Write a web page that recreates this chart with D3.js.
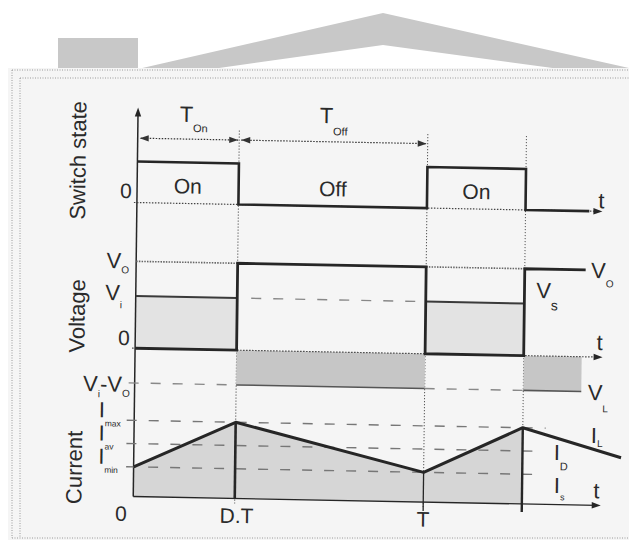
<!DOCTYPE html>
<html><head><meta charset="utf-8">
<script src="https://cdn.jsdelivr.net/npm/d3@7"></script>
<style>html,body{margin:0;padding:0;background:#fff;} svg{display:block;} text{font-family:"Liberation Sans",Arial,sans-serif;fill:#2a2a2a;}</style>
</head><body>
<svg id="c" width="629" height="547"></svg>
<script>
// ---------------- data (time in periods T, values normalised) ----------------
const timeMarks = [0, 0.35, 1, 1.34];              // 0, D.T, T, T+D.T
const timeLabels = ["0", "D.T", "T"];
const switchTimes  = [0, 0.35, 0.35, 1, 1, 1.34, 1.34, 1.56];
const switchValues = [1, 1, 0, 0, 1, 1, 0, 0];
const switchStates = ["On", "Off", "On"];
const stateSpans   = [[0, 0.35], [0.35, 1], [1, 1.34]];
const vsTimes  = [0, 0.35, 0.35, 1, 1, 1.34, 1.34, 1.55];
const vsValues = [0, 0, 1, 1, 0, 0, 1, 1];          // V_s (V_O = 1)
const vlTimes  = [0, 0.35, 1, 1.34, 1.54];
const vlValues = [0.6, -0.4, 0.6, -0.4];            // V_L on each interval
const voltageLevels = [1, 0.6, 0, -0.4];            // V_O, V_i, 0, V_i-V_O
const ilTimes  = [0, 0.35, 1, 1.34, 1.68];
const ilValues = [0.39, 1.0, 0.39, 1.0, 0.63];      // I_L
const currentLevels = [1.0, 0.695, 0.39];           // I_max, I_av, I_min
const currentLevelSubs = ["max", "av", "min"];

// ---------------- setup ----------------
const svg = d3.select("#c");
const INK = "#262626";
svg.append("rect").attr("width", 629).attr("height", 547).attr("fill", "#fff");
// decorative header shapes
svg.append("rect").attr("x", 58).attr("y", 38).attr("width", 80).attr("height", 31).attr("fill", "#c8c8c8");
svg.append("path").attr("d", "M138,69 L383,13 L629,68 L629,69 L560,69 L383,45 L212,69 Z").attr("fill", "#c8c8c8");
// paper
svg.append("rect").attr("x", 8).attr("y", 68).attr("width", 621).attr("height", 472).attr("fill", "#f5f5f5");
const dotted = (x1, y1, x2, y2) => svg.append("line").attr("x1", x1).attr("y1", y1).attr("x2", x2).attr("y2", y2)
  .attr("stroke", "#9a9a9a").attr("stroke-width", 1).attr("stroke-dasharray", "1,1.5");
dotted(12, 70, 629, 70); dotted(20, 78, 629, 78);
dotted(12, 70, 12, 538); dotted(20, 78, 20, 538); dotted(12, 538, 629, 538);

const g = svg.append("g").attr("transform", "translate(370,320) matrix(1,0.019,-0.0125,1,0,0) translate(-370,-320)");

const x = d3.scaleLinear().domain([0, 1]).range([135.5, 425.5]);
const ySw = d3.scaleLinear().domain([0, 1]).range([207, 166]);
const yV = d3.scaleLinear().domain([0, 1]).range([352.7, 265.8]);
const yI = d3.scaleLinear().domain([0, 1]).range([501, 424.8]);

function seg(x1, y1, x2, y2, color, w, dash) {
  const l = g.append("line").attr("x1", x1).attr("y1", y1).attr("x2", x2).attr("y2", y2)
    .attr("stroke", color).attr("stroke-width", w).attr("stroke-linecap", "butt");
  if (dash) l.attr("stroke-dasharray", dash);
  return l;
}
function arrowHead(px, py, dir, color) {
  const L = 9, W = 3.2;
  let p;
  if (dir === "r") p = [[px, py], [px - L, py - W], [px - L, py + W]];
  if (dir === "l") p = [[px, py], [px + L, py - W], [px + L, py + W]];
  if (dir === "u") p = [[px, py], [px - W, py + L], [px + W, py + L]];
  g.append("path").attr("d", "M" + p.map(d => d.join(",")).join("L") + "Z").attr("fill", color || INK);
}
function label(px, py, main, sub, subSize, subDy, size, anchor) {
  const t = g.append("text").attr("x", px).attr("y", py).attr("font-size", size || 22);
  if (anchor) t.attr("text-anchor", anchor);
  t.append("tspan").text(main);
  if (sub) t.append("tspan").attr("font-size", subSize).attr("dy", subDy).text(sub);
  return t;
}
function rotLabel(cx, cy, txt) {
  g.append("text").attr("transform", `translate(${cx},${cy}) rotate(-90)`).attr("text-anchor", "middle")
    .attr("dy", "0.35em").attr("font-size", 22).attr("fill", "#3a3a3a").text(txt);
}

// ---------------- grid verticals ----------------
timeMarks.slice(1).forEach(t => seg(x(t), 133, x(t), 506, "#555", 1, "1.2,1.8"));

// ---------------- fills ----------------
// V_L fills
for (let i = 0; i < vlValues.length; i++) {
  const v = vlValues[i];
  g.append("rect").attr("x", x(vlTimes[i])).attr("width", x(vlTimes[i + 1]) - x(vlTimes[i]))
    .attr("y", Math.min(yV(0), yV(v))).attr("height", Math.abs(yV(v) - yV(0)))
    .attr("fill", v > 0 ? "#e3e3e3" : "#c6c6c6");
}
// I_L fill up to T + D.T
const ilFillIdx = ilTimes.indexOf(timeMarks[3]);
g.append("path").datum(d3.range(ilFillIdx + 1))
  .attr("d", d3.area().x(i => x(ilTimes[i])).y0(yI(0)).y1(i => yI(ilValues[i])))
  .attr("fill", "#d6d6d6");

// ---------------- main vertical axis ----------------
seg(x(0), yI(0), x(0), 118, INK, 1.5);
arrowHead(x(0), 112, "u");

// ---------------- switch state panel ----------------
rotLabel(76, 166, "Switch state");
seg(x(0) + 3, 142.6, x(timeMarks[1]) - 1, 142.6, "#333", 1.2, "1.5,1.5");
arrowHead(x(0) + 2, 142.6, "l", "#333"); arrowHead(x(timeMarks[1]) - 1, 142.6, "r", "#333");
seg(x(timeMarks[1]) + 2, 142.6, x(timeMarks[2]) - 1, 142.6, "#333", 1.2, "1.5,1.5");
arrowHead(x(timeMarks[1]) + 2, 142.6, "l", "#333"); arrowHead(x(timeMarks[2]) - 1, 142.6, "r", "#333");
label(x(0.175) - 9, 125.5, "T", "On", 11, 10);
label(x(0.675) - 14, 124, "T", "Off", 11, 12);
seg(x(0) - 3, ySw(0), 598, ySw(0), "#444", 1.2, "1.5,1.5");
arrowHead(601, ySw(0), "r");
g.append("path").datum(d3.range(switchTimes.length))
  .attr("d", d3.line().x(i => x(switchTimes[i])).y(i => ySw(switchValues[i])))
  .attr("fill", "none").attr("stroke", INK).attr("stroke-width", 2.6);
stateSpans.forEach((s, i) => label(x((s[0] + s[1]) / 2), 197, switchStates[i], null, 0, 0, 21, "middle"));
label(124.4, 202.7, "0", null, 0, 0, 21, "middle");
label(600, 204, "t", null, 0, 0, 22, "middle");

// ---------------- voltage panel ----------------
rotLabel(77, 321.5, "Voltage");
// reference lines
seg(x(0), yV(1), x(timeMarks[1]), yV(1), "#666", 1.6, "1.5,1.2");
seg(x(timeMarks[2]), yV(1), x(timeMarks[3]), yV(1), "#666", 1.6, "1.5,1.2");
seg(x(timeMarks[1]) + 14, yV(0.6), x(timeMarks[2]), yV(0.6), "#888", 1.4, "10,12");
seg(x(0) - 6, yV(-0.4), x(timeMarks[1]), yV(-0.4), "#888", 1.4, "10,12");
seg(x(timeMarks[2]), yV(-0.4), x(timeMarks[3]), yV(-0.4), "#888", 1.4, "10,12");
// zero axis
seg(x(0) - 3, yV(0), 599, yV(0), "#444", 1.2, "1.5,1.5");
arrowHead(603, yV(0), "r");
// V_L edges
for (let i = 0; i < vlValues.length; i++) {
  const v = vlValues[i];
  seg(x(vlTimes[i]), yV(v), x(vlTimes[i + 1]), yV(v), v > 0 ? "#3a3a3a" : "#555", v > 0 ? 2 : 1.6);
}
// V_s
g.append("path").datum(d3.range(vsTimes.length))
  .attr("d", d3.line().x(i => x(vsTimes[i])).y(i => yV(vsValues[i])))
  .attr("fill", "none").attr("stroke", INK).attr("stroke-width", 2.8);
// labels
label(106, 273, "V", "O", 10, 5);
label(105, 305, "V", "i", 10, 8);
label(124.2, 349.7, "0", null, 0, 0, 21, "middle");
(function () {
  const t = g.append("text").attr("x", 84).attr("y", 396.5).attr("font-size", 22);
  t.append("tspan").text("V");
  t.append("tspan").attr("font-size", 10).attr("dy", 6).text("i");
  t.append("tspan").attr("dy", -6).text("-V");
  t.append("tspan").attr("font-size", 10).attr("dy", 5).text("O");
})();
label(590.5, 273.7, "V", "O", 10, 9);
label(536, 294.8, "V", "s", 14, 12);
label(599.8, 345.7, "t", null, 0, 0, 22, "middle");
label(588.6, 395.8, "V", "L", 10, 12);

// ---------------- current panel ----------------
rotLabel(76, 473, "Current");
const levelEnds = [547, 540, 540];
currentLevels.forEach((v, i) => {
  seg(128, yI(v), levelEnds[i], yI(v), "#777", 1.4, "10,12");
  label(100, yI(v) - 2.5, "I", currentLevelSubs[i], 8.5, 9, 22);
});
g.append("path").datum(d3.range(ilTimes.length))
  .attr("d", d3.line().x(i => x(ilTimes[i])).y(i => yI(ilValues[i])))
  .attr("fill", "none").attr("stroke", INK).attr("stroke-width", 3).attr("stroke-linejoin", "round");
seg(x(timeMarks[1]), yI(ilValues[1]), x(timeMarks[1]), yI(0), INK, 2.6);
seg(x(timeMarks[2]), yI(ilValues[2]), x(timeMarks[2]), 510, INK, 1.3);
seg(x(timeMarks[3]), yI(ilValues[3]), x(timeMarks[3]), 509, INK, 2.4);
seg(x(0), yI(0), 599, yI(0), INK, 1.4);
arrowHead(603, yI(0), "r");
label(592.3, 438.7, "I", "L", 10, 4);
label(555.5, 456.5, "I", "D", 11, 10);
label(556, 489.5, "I", "s", 9, 7);
label(598.6, 494, "t", null, 0, 0, 22, "middle");
const bottomOffsets = [-12, 2, 0];
timeLabels.forEach((s, i) => label(x(timeMarks[i]) + bottomOffsets[i], 525.5, s, null, 0, 0, 21, "middle"));
</script>
</body></html>
